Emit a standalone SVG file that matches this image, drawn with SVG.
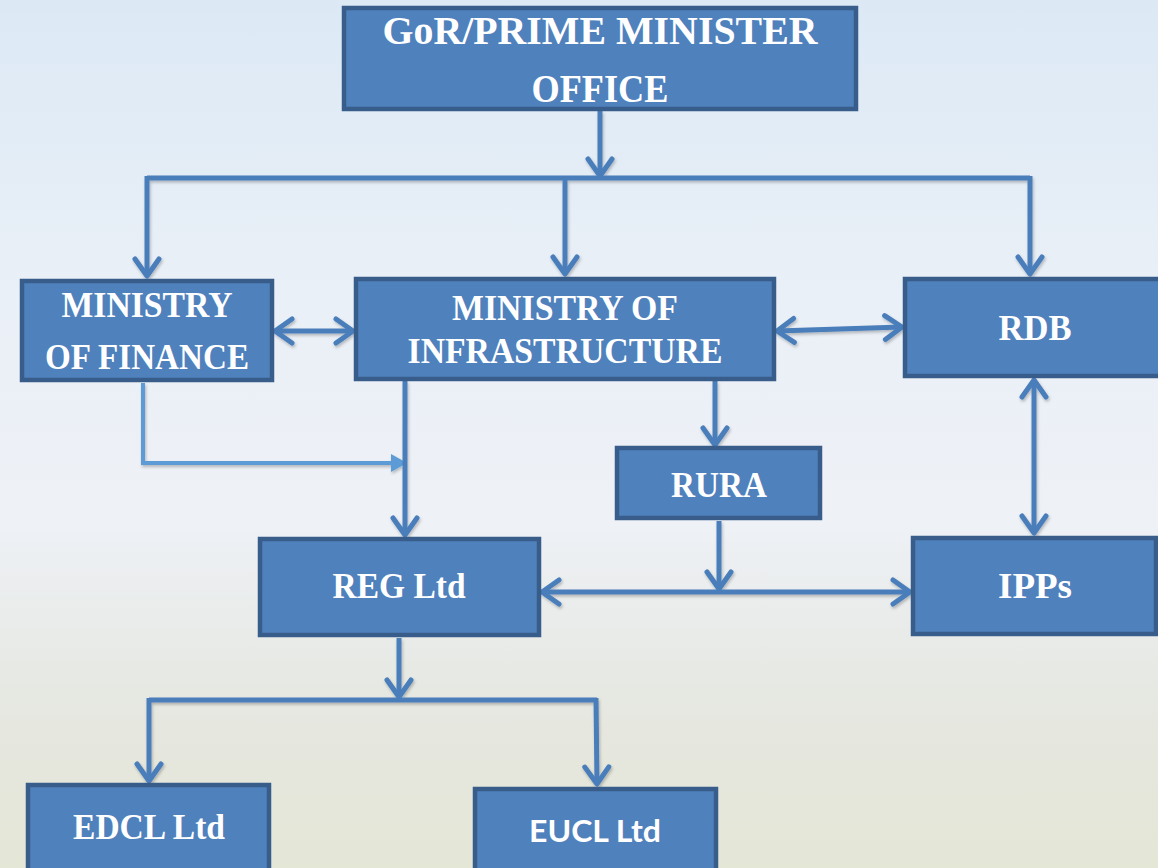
<svg xmlns="http://www.w3.org/2000/svg" width="1158" height="868" viewBox="0 0 1158 868">
<defs>
<linearGradient id="bg" x1="0" y1="0" x2="0" y2="1">
<stop offset="0" stop-color="#dce9f5"/>
<stop offset="0.35" stop-color="#eaf0f7"/>
<stop offset="0.6" stop-color="#eef1f6"/>
<stop offset="0.8" stop-color="#e6e8e2"/>
<stop offset="1" stop-color="#e4e6d6"/>
</linearGradient>
<marker id="arr" viewBox="-4 -4 32 38" refX="20" refY="15" markerWidth="32" markerHeight="38" markerUnits="userSpaceOnUse" orient="auto-start-reverse" overflow="visible">
<path d="M3,3 L20,15 L3,27" fill="none" stroke="#4a7ebb" stroke-width="5" stroke-linecap="round" stroke-linejoin="round"/>
</marker>
<marker id="tri" viewBox="0 0 16 18" refX="15" refY="9" markerWidth="16" markerHeight="18" markerUnits="userSpaceOnUse" orient="auto">
<path d="M0,0 L16,9 L0,18 Z" fill="#5b9bd5"/>
</marker>
<filter id="sh" x="-5%" y="-5%" width="110%" height="120%">
<feDropShadow dx="1" dy="2" stdDeviation="1.5" flood-color="#000" flood-opacity="0.25"/>
</filter>
</defs>
<style>
.box{fill:#4f81bd;stroke:#385d8a;stroke-width:4.5;}
.t{fill:#fff;font-family:"Liberation Serif","DejaVu Serif",serif;font-weight:bold;text-anchor:middle;}
.ts{fill:#fff;font-family:Lato,"Liberation Sans",sans-serif;font-weight:bold;text-anchor:middle;}
.c{fill:none;stroke:#4a7ebb;stroke-width:5;stroke-linejoin:miter;}
.ca{fill:none;stroke:#4a7ebb;stroke-width:5;marker-end:url(#arr);}
.cb{fill:none;stroke:#4a7ebb;stroke-width:5;marker-start:url(#arr);marker-end:url(#arr);}
.cl{fill:none;stroke:#5b9bd5;stroke-width:4;marker-end:url(#tri);}
</style>
<rect width="1158" height="868" fill="url(#bg)"/>

<g id="connectors" filter="url(#sh)">
<path class="ca" d="M600,111 V176"/>
<path class="c" d="M147,178 H1030"/>
<path class="ca" d="M147,176 V276"/>
<path class="ca" d="M565,176 V274"/>
<path class="ca" d="M1030,176 V274"/>
<path class="cb" d="M275,331 H353"/>
<path class="cb" d="M777,331 L902,327"/>
<path class="cl" d="M143,383 V463 H406"/>
<path class="ca" d="M405,381 V535"/>
<path class="ca" d="M715,381 V445"/>
<path class="cb" d="M1034,380 V533"/>
<path class="ca" d="M719,521 V589"/>
<path class="cb" d="M542,592 H910"/>
<path class="ca" d="M399,638 V697"/>
<path class="c" d="M149,700 H597"/>
<path class="ca" d="M149,698 V781"/>
<path class="ca" d="M596,698 L597,784"/>
</g>

<g id="pm">
<rect class="box" x="344" y="8" width="512" height="101"/>
<text class="t" x="600" y="44" font-size="39" textLength="435" lengthAdjust="spacingAndGlyphs">GoR/PRIME MINISTER</text>
<text class="t" x="600" y="102" font-size="39" textLength="137" lengthAdjust="spacingAndGlyphs">OFFICE</text>
</g>
<g id="mof">
<rect class="box" x="22" y="281" width="250" height="99"/>
<text class="t" x="147" y="317" font-size="35" textLength="171" lengthAdjust="spacingAndGlyphs">MINISTRY</text>
<text class="t" x="147" y="369" font-size="35" textLength="204" lengthAdjust="spacingAndGlyphs">OF FINANCE</text>
</g>
<g id="moi">
<rect class="box" x="356" y="279" width="418" height="100"/>
<text class="t" x="565" y="320" font-size="35" textLength="226" lengthAdjust="spacingAndGlyphs">MINISTRY OF</text>
<text class="t" x="565" y="363" font-size="35" textLength="315" lengthAdjust="spacingAndGlyphs">INFRASTRUCTURE</text>
</g>
<g id="rdb">
<rect class="box" x="905" y="279" width="260" height="97"/>
<text class="t" x="1035" y="340" font-size="35" textLength="73" lengthAdjust="spacingAndGlyphs">RDB</text>
</g>
<g id="rura">
<rect class="box" x="617" y="448" width="203" height="70"/>
<text class="t" x="719" y="497" font-size="35" textLength="96" lengthAdjust="spacingAndGlyphs">RURA</text>
</g>
<g id="reg">
<rect class="box" x="260" y="539" width="279" height="96"/>
<text class="t" x="399" y="598" font-size="35" textLength="133" lengthAdjust="spacingAndGlyphs">REG Ltd</text>
</g>
<g id="ipps">
<rect class="box" x="913" y="538" width="243" height="96"/>
<text class="t" x="1035" y="598" font-size="35" textLength="74" lengthAdjust="spacingAndGlyphs">IPPs</text>
</g>
<g id="edcl">
<rect class="box" x="28" y="785" width="241" height="100"/>
<text class="t" x="149" y="839" font-size="35" textLength="152" lengthAdjust="spacingAndGlyphs">EDCL Ltd</text>
</g>
<g id="eucl">
<rect class="box" x="475" y="789" width="241" height="100"/>
<text class="ts" x="595" y="842" font-size="31" textLength="132" lengthAdjust="spacingAndGlyphs">EUCL Ltd</text>
</g>
</svg>
